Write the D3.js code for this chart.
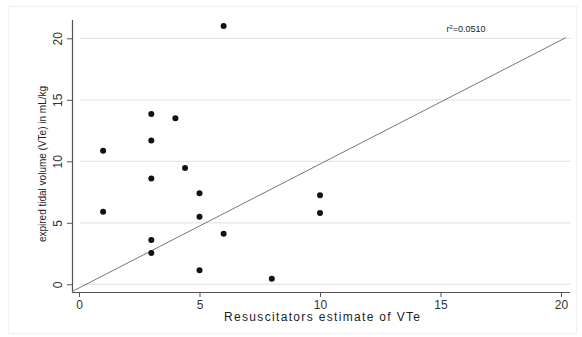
<!DOCTYPE html>
<html>
<head>
<meta charset="utf-8">
<script src="https://cdn.jsdelivr.net/npm/d3@7"></script>
<style>
  body { margin: 0; background: #fff; }
  text { font-family: "Liberation Sans", Arial, sans-serif; fill: #333; }
</style>
</head>
<body>
<div class="chart"></div>
<script>
// values
var estimateVTe = [6, 3, 4, 3, 1, 4.4, 3, 5, 1, 5, 6, 3, 3, 5, 8, 10, 10];
var expiredVTe = [21.0, 13.85, 13.5, 11.7, 10.85, 9.45, 8.6, 7.4, 5.9, 5.5, 4.1, 3.6, 2.55, 1.15, 0.45, 7.25, 5.8];
var xTicks = [0, 5, 10, 15, 20];
var yTicks = [0, 5, 10, 15, 20];
var refLineX = [-0.3, 20.2];
var refLineY = [-0.6, 20.05];
var rSquared = "0.0510";

var width = 582, height = 337;

var x = d3.scaleLinear()
    .domain([0, 20])
    .range([79, 561]);

var y = d3.scaleLinear()
    .domain([0, 20])
    .range([284.3, 38.3]);

var svg = d3.select(".chart").append("svg")
    .attr("width", width)
    .attr("height", height);

// faint outer frame
svg.append("rect")
    .attr("x", 8.5).attr("y", 6.5)
    .attr("width", 568).attr("height", 327)
    .attr("fill", "none")
    .attr("stroke", "#f0f0f0");

// horizontal grid
svg.append("g")
    .selectAll("line")
    .data(yTicks)
    .join("line")
    .attr("x1", 80).attr("x2", 571)
    .attr("y1", function(d) { return y(d); })
    .attr("y2", function(d) { return y(d); })
    .attr("stroke", "#e6e6e6")
    .attr("stroke-width", 1.2);

var xAxis = d3.axisBottom(x)
    .tickValues(xTicks)
    .tickSize(5)
    .tickPadding(3);

var yAxis = d3.axisLeft(y)
    .tickValues(yTicks)
    .tickSize(5)
    .tickPadding(3);

var gx = svg.append("g")
    .attr("transform", "translate(0,292)")
    .call(xAxis);
gx.select(".domain").attr("d", "M72,0.5H570");

var gy = svg.append("g")
    .attr("transform", "translate(72,0)")
    .call(yAxis);
gy.select(".domain").attr("d", "M0.5,20V292");

[gx, gy].forEach(function(g) {
    g.selectAll(".domain").attr("stroke", "#555").attr("stroke-width", 1.2);
    g.selectAll(".tick line").attr("stroke", "#555");
    g.selectAll(".tick text")
        .style("font-size", "12px")
        .style("font-family", "Liberation Sans, Arial, sans-serif")
        .attr("fill", "#222");
});

// rotate y tick labels
gy.selectAll(".tick text")
    .attr("x", null).attr("dy", null)
    .attr("text-anchor", "middle")
    .attr("transform", "translate(-14,0) rotate(-90)")
    .attr("y", 0)
    .attr("dy", "0.35em");

// reference line
var line = d3.line()
    .x(function(d) { return x(d[0]); })
    .y(function(d) { return y(d[1]); });

svg.append("path")
    .datum(d3.zip(refLineX, refLineY))
    .attr("d", line)
    .attr("fill", "none")
    .attr("stroke", "#777")
    .attr("stroke-width", 1);

// points
svg.append("g")
    .selectAll("circle")
    .data(d3.zip(estimateVTe, expiredVTe))
    .join("circle")
    .attr("cx", function(d) { return x(d[0]); })
    .attr("cy", function(d) { return y(d[1]); })
    .attr("r", 3)
    .attr("fill", "#111");

// labels
svg.append("text")
    .attr("x", 322).attr("y", 321)
    .attr("text-anchor", "middle")
    .attr("textLength", 196)
    .attr("lengthAdjust", "spacing")
    .style("font-size", "12px")
    .style("fill", "#222")
    .text("Resuscitators estimate of VTe");

svg.append("text")
    .attr("transform", "translate(42,164) rotate(-90)")
    .attr("text-anchor", "middle")
    .attr("dy", "0.35em")
    .style("font-size", "10px")
    .style("fill", "#222")
    .text("expired tidal volume (VTe) in mL/kg");

var ann = svg.append("text")
    .attr("x", 466).attr("y", 32)
    .attr("text-anchor", "middle")
    .style("font-size", "9px")
    .style("fill", "#222");
ann.append("tspan").text("r");
ann.append("tspan").attr("dy", -3).style("font-size", "6px").text("2");
ann.append("tspan").attr("dy", 3).text("=" + rSquared);
</script>
</body>
</html>
